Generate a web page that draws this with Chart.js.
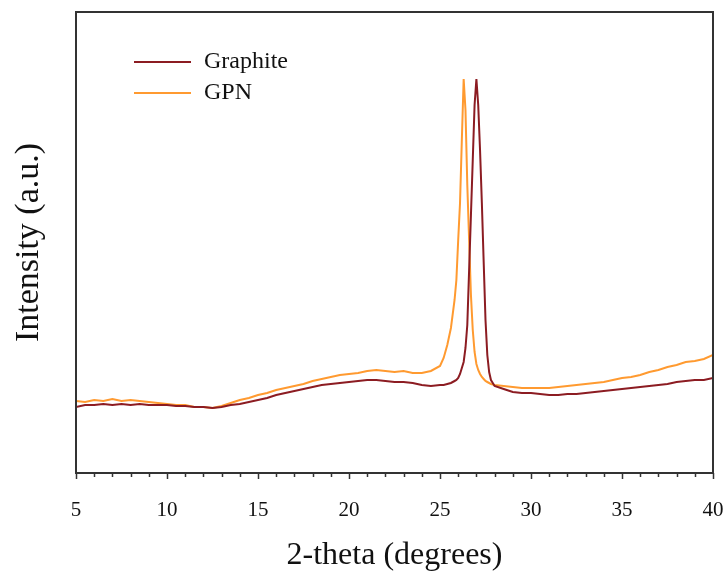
<!DOCTYPE html>
<html>
<head>
<meta charset="utf-8">
<script src="https://cdn.jsdelivr.net/npm/chart.js@4/dist/chart.umd.min.js"></script>
<style>
  html, body { margin: 0; padding: 0; background: #fff; }
  #xrd { display: block; }
</style>
</head>
<body>
<canvas id="xrd" width="728" height="573"></canvas>
<script>
// ── data ───────────────────────────────────────────────
const twoTheta = [
  5, 5.5, 6, 6.5, 7, 7.5, 8, 8.5, 9, 9.5, 10, 10.5, 11, 11.5, 12, 12.5, 13, 13.5, 14, 14.5,
  15, 15.5, 16, 16.5, 17, 17.5, 18, 18.5, 19, 19.5, 20, 20.5, 21, 21.5, 22, 22.5, 23, 23.5, 24, 24.5, 25,
  25.2, 25.4, 25.6, 25.8, 25.9, 26.0, 26.1, 26.2, 26.3, 26.4, 26.5, 26.6, 26.7, 26.8, 26.9,
  27.0, 27.1, 27.2, 27.3, 27.4, 27.5, 27.6, 27.7, 27.8, 28.0,
  28.5, 29, 29.5, 30, 30.5, 31, 31.5, 32, 32.5, 33, 33.5, 34, 34.5, 35, 35.5, 36, 36.5, 37, 37.5,
  38, 38.5, 39, 39.5, 40
];

const graphite = [
  66, 68, 68, 69, 68, 69, 68, 69, 68, 68, 68, 67, 67, 66, 66, 65, 66, 68, 69, 71,
  73, 75, 78, 80, 82, 84, 86, 88, 89, 90, 91, 92, 93, 93, 92, 91, 91, 90, 88, 87, 88,
  88, 89, 90, 92, 93, 95, 99, 105, 111, 125, 148, 203, 258, 313, 368,
  394, 368, 323, 270, 211, 153, 118, 101, 93, 87,
  84, 81, 80, 80, 79, 78, 78, 79, 79, 80, 81, 82, 83, 84, 85, 86, 87, 88, 89,
  91, 92, 93, 93, 95
];

const gpn = [
  72, 71, 73, 72, 74, 72, 73, 72, 71, 70, 69, 68, 68, 66, 66, 65, 67, 70, 73, 75,
  78, 80, 83, 85, 87, 89, 92, 94, 96, 98, 99, 100, 102, 103, 102, 101, 102, 100, 100, 102, 107,
  115, 128, 145, 173, 193, 233, 270, 333, 394, 363, 288, 233, 178, 143, 121,
  109, 103, 99, 96, 94, 92, 91, 90, 89, 88,
  87, 86, 85, 85, 85, 85, 86, 87, 88, 89, 90, 91, 93, 95, 96, 98, 101, 103, 106,
  108, 111, 112, 114, 118
];

const seriesNames = ['Graphite', 'GPN'];
const seriesColors = ['#8c1c22', '#ff9a30'];
const xTicks = [5, 10, 15, 20, 25, 30, 35, 40];

const SERIF = '"Liberation Serif", "DejaVu Serif", serif';

// ── frame, minor ticks and legend ──────────────────────
const framePlugin = {
  id: 'frame',
  afterDraw(chart) {
    const { ctx, chartArea: a, scales } = chart;
    const x = scales.x;
    ctx.save();
    ctx.strokeStyle = '#333';
    ctx.lineWidth = 2;
    ctx.strokeRect(a.left, a.top, a.right - a.left, a.bottom - a.top);

    // tick marks: long every 5, short every 1
    ctx.lineWidth = 1.5;
    for (let v = x.min; v <= x.max; v++) {
      const px = Math.round(x.getPixelForValue(v)) + 0.5;
      const len = xTicks.includes(v) ? 6 : 4;
      ctx.beginPath();
      ctx.moveTo(px, a.bottom);
      ctx.lineTo(px, a.bottom + len);
      ctx.stroke();
    }

    // legend
    ctx.font = '24px ' + SERIF;
    ctx.textBaseline = 'middle';
    ctx.fillStyle = '#111';
    chart.data.datasets.forEach((ds, i) => {
      const y = 62 + i * 31;
      ctx.strokeStyle = ds.borderColor;
      ctx.lineWidth = 2;
      ctx.beginPath();
      ctx.moveTo(134, y);
      ctx.lineTo(191, y);
      ctx.stroke();
      ctx.fillText(ds.label, 204, y);
    });
    ctx.restore();
  }
};

new Chart(document.getElementById('xrd'), {
  type: 'line',
  data: {
    datasets: [graphite, gpn].map((vals, i) => ({
      label: seriesNames[i],
      data: twoTheta.map((t, k) => ({ x: t, y: vals[k] })),
      borderColor: seriesColors[i],
      borderWidth: 2,
      pointRadius: 0,
      tension: 0,
      fill: false
    }))
  },
  options: {
    responsive: false,
    animation: false,
    layout: { padding: { top: 12, right: 15, left: 0, bottom: 0 } },
    plugins: {
      legend: { display: false },
      tooltip: { enabled: false }
    },
    scales: {
      x: {
        type: 'linear',
        min: 5,
        max: 40,
        afterFit: s => { s.height = 100; s.paddingLeft = 0; s.paddingRight = 0; },
        grid: { display: false, drawTicks: false },
        border: { display: false },
        ticks: {
          stepSize: 5,
          autoSkip: false,
          maxRotation: 0,
          padding: 25,
          color: '#111',
          font: { family: SERIF, size: 21 }
        },
        title: {
          display: true,
          text: '2-theta (degrees)',
          color: '#111',
          font: { family: SERIF, size: 32, lineHeight: 1 },
          padding: { top: 0, bottom: 1 }
        }
      },
      y: {
        min: 0,
        max: 461,
        afterFit: s => { s.width = 76; },
        grid: { display: false, drawTicks: false },
        border: { display: false },
        ticks: { display: false },
        title: {
          display: true,
          text: 'Intensity (a.u.)',
          color: '#111',
          font: { family: SERIF, size: 34, lineHeight: 1 },
          padding: { top: 12, bottom: 0 }
        }
      }
    }
  },
  plugins: [framePlugin]
});
</script>
</body>
</html>
